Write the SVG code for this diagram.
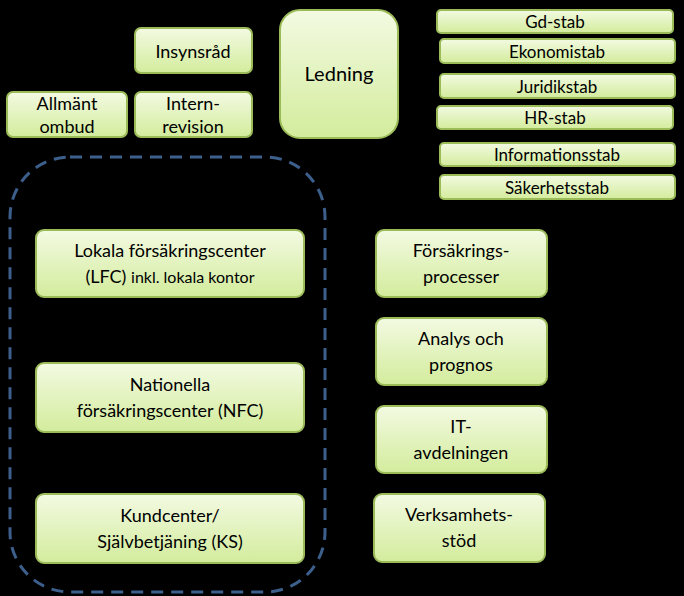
<svg xmlns="http://www.w3.org/2000/svg" width="684" height="596" viewBox="0 0 684 596">
<style>
.n{fill:url(#g);stroke:#9bbb59;stroke-width:2}
text{font-family:Lato,"Liberation Sans",sans-serif;fill:#000;text-anchor:middle;font-size:18px}
.s{font-size:17px}
.c{stroke:#000;stroke-width:2;fill:none}
</style>
<defs><linearGradient id="g" x1="0" y1="0" x2="0" y2="1"><stop offset="0" stop-color="#f3fae2"/><stop offset="1" stop-color="#d3ec9c"/></linearGradient></defs>
<rect width="684" height="596" fill="#000"/>
<g id="connectors">
<path class="c" d="M252 52H280M252 115H280M398 103H437M340 138V150"/>
</g>
<g id="insynsrad"><rect class="n" x="135" y="28" width="117" height="45" rx="6"/><text x="193" y="58">Insynsråd</text></g>
<g id="allmant"><rect class="n" x="7" y="92" width="120" height="45" rx="6"/><text x="67" y="110">Allmänt</text><text x="67" y="133">ombud</text></g>
<g id="intern"><rect class="n" x="135" y="92" width="117" height="45" rx="6"/><text x="193" y="110">Intern-</text><text x="193" y="133">revision</text></g>
<g id="ledning"><rect class="n" x="280" y="10" width="118" height="128" rx="20"/><text x="339" y="81" style="font-size:20px">Ledning</text></g>
<g id="gd"><rect class="n" x="437" y="10" width="236" height="23" rx="4"/><text class="s" x="555" y="28">Gd-stab</text></g>
<g id="eko"><rect class="n" x="440" y="39" width="235" height="24" rx="4"/><text class="s" x="557" y="58">Ekonomistab</text></g>
<g id="jur"><rect class="n" x="440" y="74" width="235" height="24" rx="4"/><text class="s" x="557" y="93">Juridikstab</text></g>
<g id="hr"><rect class="n" x="437" y="106" width="236" height="23" rx="4"/><text class="s" x="555" y="124">HR-stab</text></g>
<g id="info"><rect class="n" x="440" y="143" width="235" height="23" rx="4"/><text class="s" x="557" y="161">Informationsstab</text></g>
<g id="sak"><rect class="n" x="440" y="175" width="235" height="24" rx="4"/><text class="s" x="557" y="194">Säkerhetsstab</text></g>
<rect x="10" y="157" width="315" height="435" rx="60" fill="none" stroke="#3d5f8c" stroke-width="3" stroke-dasharray="12 8"/>
<g id="lfc"><rect class="n" x="36" y="230" width="268" height="67" rx="8"/><text x="170" y="257">Lokala försäkringscenter</text><text x="170" y="283">(LFC) <tspan style="font-size:16px">inkl. lokala kontor</tspan></text></g>
<g id="nfc"><rect class="n" x="36" y="363" width="268" height="69" rx="8"/><text x="170" y="391">Nationella</text><text x="170" y="417">försäkringscenter (NFC)</text></g>
<g id="ks"><rect class="n" x="36" y="494" width="268" height="69" rx="8"/><text x="170" y="522">Kundcenter/</text><text x="170" y="548">Självbetjäning (KS)</text></g>
<g id="fp"><rect class="n" x="376" y="230" width="171" height="67" rx="8"/><text x="461" y="257">Försäkrings-</text><text x="461" y="283">processer</text></g>
<g id="ap"><rect class="n" x="376" y="318" width="171" height="67" rx="8"/><text x="461" y="345">Analys och</text><text x="461" y="371">prognos</text></g>
<g id="it"><rect class="n" x="376" y="406" width="171" height="67" rx="8"/><text x="461" y="433">IT-</text><text x="461" y="459">avdelningen</text></g>
<g id="vs"><rect class="n" x="374" y="494" width="171" height="68" rx="8"/><text x="459" y="521">Verksamhets-</text><text x="459" y="547">stöd</text></g>
</svg>
